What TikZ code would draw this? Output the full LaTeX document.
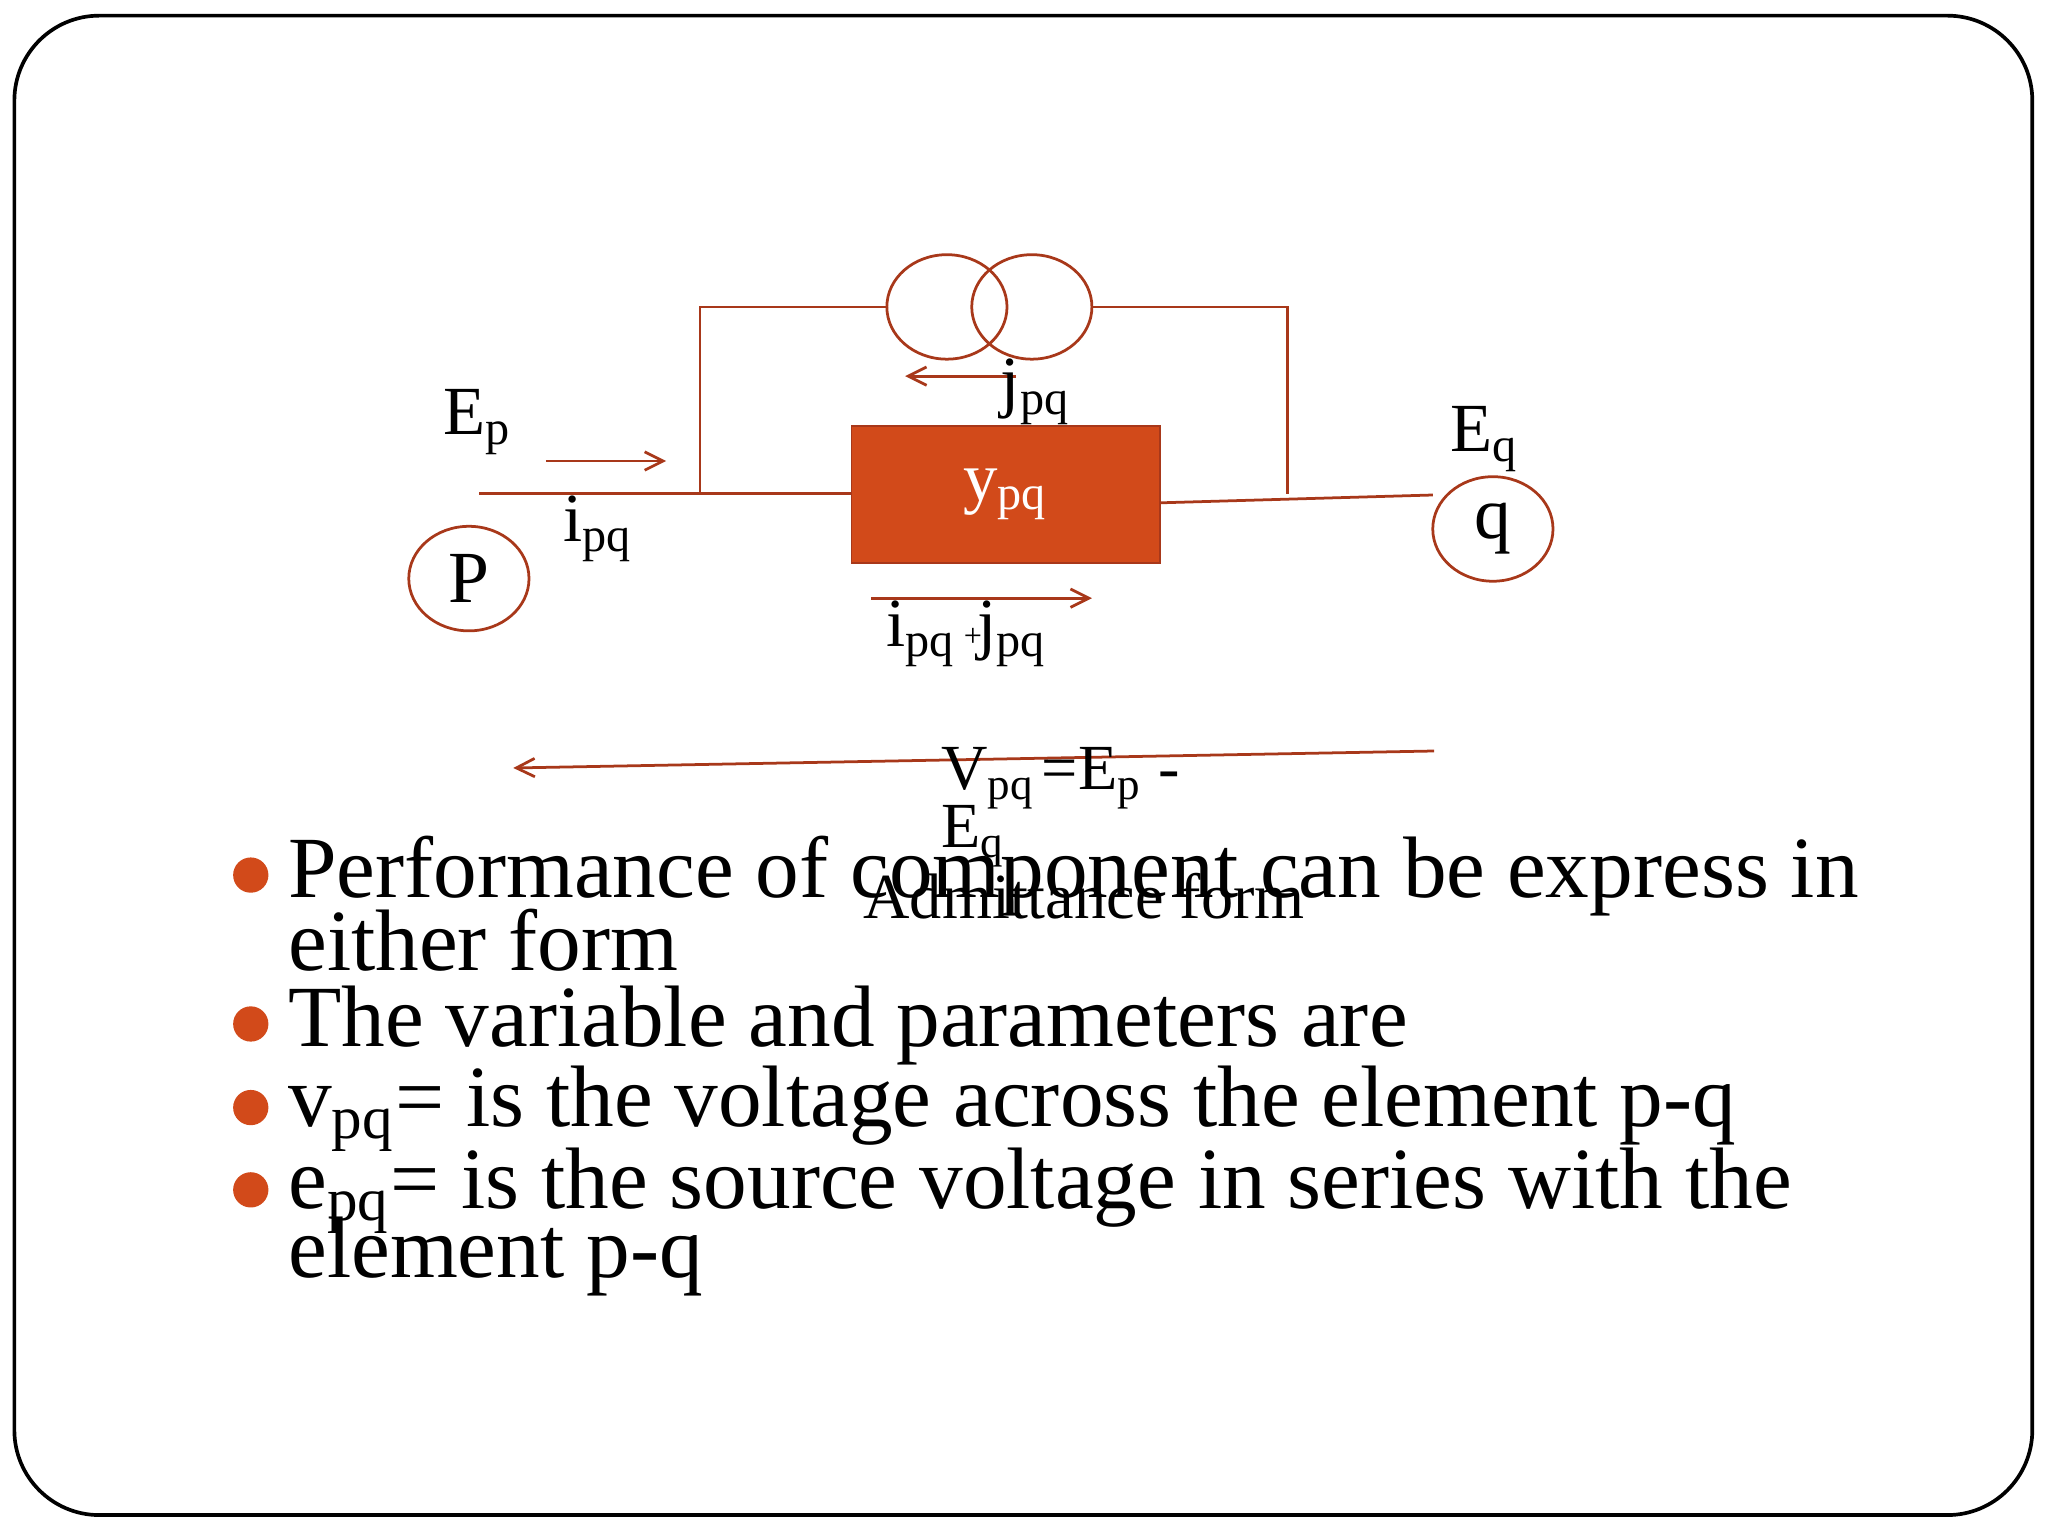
\documentclass[tikz,border=0pt]{standalone}
\usepackage{fontspec}
\setmainfont{Liberation Serif}
\usetikzlibrary{arrows.meta,shapes.geometric}
\definecolor{wire}{HTML}{A8381A}
\definecolor{box}{HTML}{D24A1A}
\begin{document}
\begin{tikzpicture}[x=0.01cm,y=-0.01cm,
  w/.style={draw=wire,line width=0.6pt},
  arr/.style={w,-{Straight Barb[length=4pt,width=4pt]}},
  lbl/.style={font=\fontsize{15}{17}\selectfont,inner sep=0pt},
  bt/.style={font=\fontsize{19}{19}\selectfont,anchor=west,inner sep=0pt},
  dot/.style={circle,fill=box,minimum size=0.27cm,inner sep=0pt}]
\useasboundingbox (0,0) rectangle (1568,1168);
\draw[line width=0.8pt,rounded corners=0.65cm] (11,12) rectangle (1556,1160);
% transformer
\draw[w] (725,235) ellipse [x radius=46,y radius=40];
\draw[w] (790,235) ellipse [x radius=46,y radius=40];
\coordinate (la) at (680,235); \coordinate (lb) at (536,235); \coordinate (lc) at (536,378);
\coordinate (ra) at (836,235); \coordinate (rb) at (986,235); \coordinate (rc) at (986,378);
\draw[w] (la) -- (lb) -- (lc);
\draw[w] (ra) -- (rb) -- (rc);
% box
\node[fill=box,draw=wire,minimum width=2.36cm,minimum height=1.05cm,inner sep=0pt,text=white,font=\fontsize{15}{17}\selectfont] (y) at (770,378.5) {y\textsubscript{pq}};
\coordinate (pl) at (367,378); \coordinate (qr) at (1097,379);
\draw[w] (pl) -- (y.west|-pl);
\draw[w] (888,385) -- (qr);
% arrows
\coordinate (a1) at (418,353); \coordinate (a2) at (510,353);
\draw[arr] (a1) -- (a2);
\coordinate (b1) at (778,288); \coordinate (b2) at (693,288);
\draw[arr] (b1) -- (b2);
\coordinate (c1) at (667,458); \coordinate (c2) at (836,458);
\draw[arr] (c1) -- (c2);
\coordinate (d1) at (1098,575); \coordinate (d2) at (393,588);
\draw[arr] (d1) -- (d2);
% buses
\node[w,ellipse,minimum width=0.92cm,minimum height=0.8cm,inner sep=0pt,font=\fontsize{16}{18}\selectfont] (P) at (359,443) {P};
\node[w,ellipse,minimum width=0.92cm,minimum height=0.8cm,inner sep=0pt,font=\fontsize{16}{18}\selectfont] (q) at (1143,405) {q};
% labels
\node[lbl] (Ep) at (366,323) {E\textsubscript{p}};
\node[lbl] (Eq) at (1137,336) {E\textsubscript{q}};
\node[lbl] (ipq) at (458,405) {i\textsubscript{pq}};
\node[lbl] (jpq) at (793,300) {j\textsubscript{pq}};
\node[lbl] (ij) at (740,485) {i\textsubscript{pq} \kern-2pt\raisebox{0pt}{\scriptsize+}\kern-1pt j\textsubscript{pq}};
\node[lbl,font=\fontsize{14}{16}\selectfont,anchor=west] (V) at (720,596) {V\textsubscript{pq} \kern-2pt=E\textsubscript{p} -};
\node[lbl,font=\fontsize{14}{16}\selectfont,anchor=west] (E2) at (720,640) {E\textsubscript{q}};
\node[lbl,font=\fontsize{14}{16}\selectfont] (adm) at (830,686) {Admittance form};
% bullets
\node[dot] (b1d) at (192,670) {};
\node[bt] (t1) at (220,671) {Performance of component can be express in};
\node[bt] (t1b) at (220,720) {either form};
\node[dot] (b2d) at (192,784) {};
\node[bt] (t2) at (220,785) {The variable and parameters are};
\node[dot] (b3d) at (192,848) {};
\node[bt] (t3) at (220,849) {v\textsubscript{pq}= is the voltage across the element p-q};
\node[dot] (b4d) at (192,911) {};
\node[bt] (t4) at (220,912) {e\textsubscript{pq}= is the source voltage in series with the};
\node[bt] (t4b) at (220,962) {element p-q};
\end{tikzpicture}
\end{document}
